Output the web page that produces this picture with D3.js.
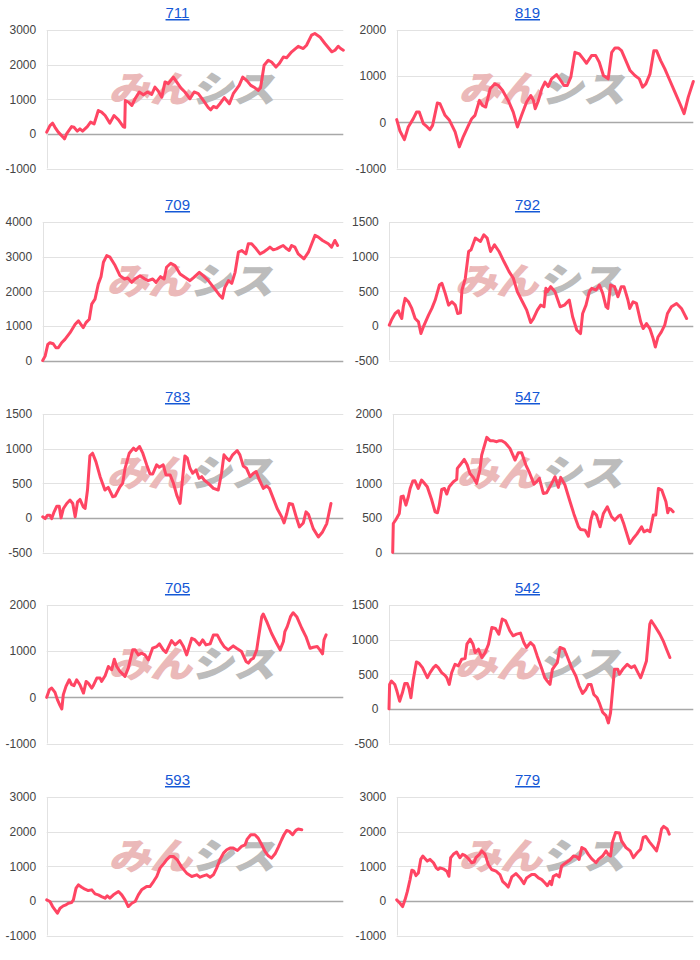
<!DOCTYPE html>
<html><head><meta charset="utf-8">
<script src="https://cdn.jsdelivr.net/npm/d3@7"></script>
<style>body{margin:0;background:#fff;} svg{display:block}</style>
</head><body><svg id="c" width="700" height="960"></svg>
<script>
// ---- DATA ----
const panelIds = ["711","819","709","792","783","547","705","542","593","779"];

const ticks711 = [-1000,0,1000,2000,3000];
const ticks819 = [-1000,0,1000,2000];
const ticks709 = [0,1000,2000,3000,4000];
const ticks792 = [-500,0,500,1000,1500];
const ticks783 = [-500,0,500,1000,1500];
const ticks547 = [0,500,1000,1500,2000];
const ticks705 = [-1000,0,1000,2000];
const ticks542 = [-500,0,500,1000,1500];
const ticks593 = [-1000,0,1000,2000,3000];
const ticks779 = [-1000,0,1000,2000,3000];

// [step, value] pairs, step on a 0..100 scale
const s711 = [[0,50],[1.1,240],[2,310],[2.8,190],[3.9,50],[5.6,-100],[6,-145],[6.7,0],[8.4,210],[9.2,190],[10.3,80],[11.2,145],[12.1,80],[13.7,210],[14.8,340],[16,290],[17.4,675],[18.5,630],[19.7,530],[21.3,310],[22.7,530],[24.2,405],[25.8,210],[26.3,190],[26.5,965],[27.5,920],[28.7,820],[29.8,1015],[31.2,1210],[32.6,1130],[34,1210],[35.4,1140],[36.5,1350],[37.6,1240],[38.8,1060],[39.9,1500],[41,1450],[42.7,1640],[43.8,1500],[45.2,1330],[46.6,1210],[48.3,1015],[49.7,1210],[51.1,1160],[52.8,965],[54.5,755],[55.3,695],[56.2,790],[57.3,755],[58.4,870],[59.9,1045],[61.6,870],[62.9,1160],[64.3,1330],[64.9,1400],[66.1,1640],[67.4,1545],[68.8,1400],[70.2,1330],[71.3,1255],[72.1,1330],[73.3,1980],[74.7,2125],[75.8,2075],[77.3,1930],[78.4,2030],[79.8,2220],[80.9,2200],[82.6,2370],[84.8,2530],[86.5,2465],[87.6,2560],[89.3,2850],[90.4,2900],[92.1,2800],[93.8,2610],[96.1,2370],[97.2,2415],[98.3,2530],[99.1,2465],[100,2415]];

const s819 = [[0,58],[1.1,-187],[2.6,-374],[3.9,-100],[5.6,80],[6.7,223],[7.6,223],[9,-29],[10.3,-100],[11.2,-158],[12.1,-65],[13.7,417],[14.6,403],[16.3,151],[17.8,43],[19.7,-208],[21.1,-532],[22.5,-302],[24.2,-65],[25.3,79],[26.4,151],[27.9,475],[28.9,367],[30,331],[31.5,726],[33.1,834],[34.3,798],[35.7,690],[37.6,475],[39.3,223],[40.7,-100],[42.1,151],[43.8,439],[45.2,582],[46.1,475],[46.7,295],[47.8,475],[48.9,726],[50,870],[51.1,776],[52.2,942],[53.9,1035],[55.3,906],[56.4,798],[57.5,798],[58.7,978],[60.1,1517],[61.6,1481],[62.9,1373],[64,1280],[65.7,1445],[67.1,1445],[68.3,1301],[69.7,1014],[71.3,942],[72.5,1517],[73.6,1611],[74.7,1611],[75.8,1553],[77,1373],[78.7,1122],[80.3,1014],[81.8,942],[82.9,762],[84,834],[85.4,1050],[86.7,1553],[87.6,1553],[89,1337],[90.4,1158],[92.1,906],[93.8,654],[95.5,403],[96.9,187],[98.3,546],[100,884]];

const s709 = [[0,0],[0.8,126],[1.7,465],[2.4,513],[3.5,484],[4.4,368],[5.2,368],[6.3,513],[7.4,610],[9.1,804],[10.8,1046],[11.9,1143],[12.7,1046],[13.5,949],[14.4,1094],[15.5,1191],[16.3,1627],[17.4,1772],[18.5,2208],[19.4,2421],[20.2,2838],[21.3,3031],[22.4,2983],[24.1,2741],[25.7,2450],[27.2,2353],[28.3,2383],[29.6,2257],[30.7,2353],[32.4,2450],[34,2353],[35.1,2305],[36.6,2353],[37.7,2257],[39.2,2421],[40.4,2353],[41.2,2692],[42.6,2809],[44,2741],[45.7,2499],[47.3,2402],[49,2305],[50.3,2402],[52.1,2547],[53.4,2450],[55.1,2305],[57.3,2063],[59,1869],[59.8,1801],[60.6,2111],[61.8,2305],[62.9,2228],[64,2547],[65.1,3128],[66.2,3177],[67.6,3080],[68.4,3370],[69.5,3370],[71,3225],[72.3,3080],[73.4,3128],[74.5,3196],[75.6,3274],[76.7,3196],[77.8,3225],[78.9,3274],[80,3322],[81.2,3225],[82,3177],[82.8,3322],[83.9,3274],[85,3080],[86.9,2935],[88.4,3128],[89.5,3370],[90.6,3613],[91.7,3564],[93.1,3467],[95,3370],[96.1,3274],[97.2,3467],[98.1,3322]];

const s792 = [[0,10],[0.8,92],[1.9,179],[3,218],[3.5,155],[4.1,106],[4.6,276],[5.2,397],[6.3,348],[7.4,252],[8.5,106],[9.6,58],[10.4,-111],[11.2,-15],[12.9,155],[14,252],[15.1,373],[16.5,590],[17.3,615],[18.4,469],[19.5,300],[20.6,348],[21.7,300],[22.5,179],[23.4,189],[23.9,518],[25,687],[26.1,1074],[26.9,1099],[28.3,1268],[30,1220],[31.1,1316],[32.2,1268],[33.3,1074],[34.6,1171],[36.1,1074],[37.7,929],[39.4,784],[40.8,687],[42.1,494],[43.8,348],[45.2,227],[46.5,48],[47.4,106],[48.7,227],[49.8,300],[50.9,276],[51.5,542],[52,494],[53.1,566],[54.5,494],[56.2,276],[57.6,300],[59.2,373],[60.3,131],[61.7,-63],[62.9,-111],[63.6,179],[64.7,300],[65.8,494],[66.6,542],[68,518],[69.1,590],[70.2,469],[71.3,276],[71.9,252],[72.8,590],[74.1,566],[75.2,421],[76.3,566],[77.2,566],[78.5,373],[79.1,252],[80.2,348],[81.3,324],[82.7,58],[83.5,-39],[84.6,34],[85.7,-39],[86.8,-184],[87.5,-305],[88.4,-160],[89.5,-87],[90.6,10],[91.5,179],[92.8,276],[94.5,324],[96.1,252],[97.8,106]];

const s783 = [[0,15],[0.8,-10],[1.6,39],[2.4,39],[3,-10],[3.8,87],[4.7,169],[5.5,169],[6.1,0],[6.9,136],[8,208],[9.1,257],[10,208],[10.8,15],[11.6,232],[12.4,266],[13.5,160],[14.1,136],[14.9,402],[15.7,895],[16.6,934],[17.7,813],[19.1,595],[20.7,402],[21.8,440],[23.3,305],[24.1,315],[25.7,450],[26.6,498],[27.4,716],[28.8,934],[30.2,1007],[31,973],[32.2,1031],[33.3,934],[34.6,765],[35.7,634],[36.6,634],[37.9,765],[38.8,731],[40.1,765],[41,620],[42.4,620],[43.5,499],[44.6,329],[45.7,208],[46.6,595],[47.3,895],[48.1,862],[49,716],[49.9,644],[51,692],[52,571],[52.9,595],[53.7,547],[55.1,499],[56.8,426],[58.4,402],[59.5,644],[60.3,910],[61.2,862],[62.1,828],[63.2,910],[64.7,973],[65.6,910],[66.7,750],[67.8,716],[69,595],[70.1,644],[71,668],[72.1,547],[73.4,426],[74.5,460],[75.4,426],[76.7,281],[78,136],[79.5,15],[80.3,-73],[81.2,63],[82,208],[83.1,198],[84.5,-10],[85.4,-131],[86.7,-73],[87.6,87],[88.4,53],[90,-155],[91.7,-276],[93.1,-203],[94.5,-82],[95.9,208]];

const s547 = [[0,0],[0.2,419],[1.1,477],[1.6,516],[2.2,564],[2.8,805],[3.5,815],[4.4,684],[5.2,805],[5.8,925],[6.7,1031],[7.4,1036],[8.5,925],[9.6,1046],[10.4,1007],[11.5,950],[13,757],[14.1,588],[14.9,574],[15.5,684],[16.3,911],[17.2,925],[18,844],[18.8,950],[20.2,1022],[21.3,1056],[21.5,1215],[22.4,1263],[23.8,1345],[24.8,1263],[25.7,1142],[26.8,1085],[27.9,998],[29,1191],[29.6,1407],[31.3,1663],[32.4,1615],[33.3,1615],[34.6,1600],[35.5,1615],[36.3,1615],[37.4,1586],[39,1504],[40.7,1335],[41.8,1441],[42.9,1441],[44.3,1263],[45.5,1152],[47,988],[47.9,1022],[48.8,1070],[50.1,853],[51.2,863],[52.9,998],[54,1094],[55.1,940],[55.9,1085],[57.3,974],[59,733],[60.3,554],[61.8,371],[62.5,333],[64,323],[65.1,236],[65.9,468],[66.7,588],[67.8,540],[69,371],[70.1,564],[71.4,660],[72.8,516],[73.9,468],[75.1,525],[75.8,540],[76.9,410],[78.9,130],[80,202],[81.2,265],[82.8,371],[83.6,299],[84.7,323],[85.6,299],[86.7,540],[87.5,540],[88.4,925],[89.5,901],[90.9,733],[91.5,574],[92,636],[92.6,622],[93.3,588]];

const s705 = [[0,0],[0.9,165],[1.7,201],[2.8,108],[3.6,-50],[4.5,-180],[5.1,-252],[5.6,58],[6.5,237],[7.6,381],[8.4,273],[9.2,252],[10.1,381],[11.2,273],[12.4,93],[13.3,345],[14,309],[15.2,201],[15.7,252],[16.9,417],[18,417],[18.5,345],[19.7,467],[20.8,669],[21.9,597],[22.8,827],[23.6,669],[24.7,561],[26.4,453],[27.5,633],[29,1028],[29.8,1028],[30.9,920],[32,956],[33.1,920],[34.3,812],[35.7,1064],[37.1,1100],[38,1158],[39.3,1028],[40.2,971],[42.1,1229],[43.3,1136],[44.9,1229],[46.1,1100],[47.2,920],[48.9,1280],[50,1244],[51.5,1136],[52.6,1244],[53.7,1136],[55.1,1158],[56.2,1352],[57.5,1352],[58.7,1208],[59.8,1100],[61.2,1028],[62.9,1114],[64,1064],[65.7,992],[67.2,777],[68,741],[68.8,812],[69.7,848],[70.8,1028],[71.3,1244],[72.5,1747],[73,1805],[74.2,1639],[75.8,1388],[77.5,1172],[78.7,1028],[79.8,1208],[80.3,1424],[81.1,1531],[82.2,1747],[83.1,1833],[84.3,1747],[86,1496],[87.4,1316],[88.8,1064],[89.9,1086],[91.2,1100],[92.1,1028],[93,942],[93.5,1244],[94.2,1352]];

const s542 = [[0,0],[0.2,353],[0.8,402],[1.9,353],[2.6,257],[3.5,111],[4.4,232],[5.2,368],[6,368],[6.6,290],[7.2,160],[7.9,402],[9,678],[9.9,658],[11,595],[11.8,523],[12.6,450],[13.5,523],[14.6,595],[15.4,629],[16.2,595],[17.3,523],[18.4,484],[19,450],[19.8,353],[20.6,523],[21.7,644],[22.8,620],[23.9,716],[25,726],[25.6,934],[26.7,1007],[27.6,934],[28.3,813],[29.4,862],[30.5,741],[31.6,813],[32.7,934],[33.8,1176],[35,1162],[36.1,1079],[37.2,1297],[38.3,1273],[39.7,1128],[40.8,1055],[41.9,1079],[43.2,1094],[44.3,958],[45.2,886],[46.5,958],[47.6,910],[48.7,765],[50.1,595],[51.2,450],[52,402],[52.9,353],[53.7,571],[54.5,620],[55.3,668],[56.2,886],[57.6,862],[58.7,741],[60,595],[61.4,474],[62.5,329],[63.6,223],[64.7,281],[65.5,353],[66.4,353],[67.3,208],[68.4,160],[69.1,87],[70.2,-48],[71.3,-97],[72.1,-203],[72.8,-58],[74.1,571],[75.2,571],[75.7,499],[76.8,571],[78.3,644],[79.6,595],[80.7,620],[81.8,523],[82.7,450],[83.5,547],[84.6,692],[85.1,934],[85.7,1225],[86.2,1273],[87.3,1200],[89,1079],[90.1,983],[91.2,862],[92.3,741]];

const s593 = [[0,29],[1.1,-19],[2,-164],[2.8,-260],[3.6,-357],[4.5,-212],[5.6,-145],[6.5,-116],[7.3,-68],[8.4,-48],[9,29],[9.9,367],[10.7,463],[11.8,395],[12.9,338],[14,299],[15.2,318],[16.3,203],[17.4,174],[18.5,125],[19.7,77],[20.4,145],[21.3,77],[22.5,174],[24.2,270],[25.3,174],[26.4,29],[27.5,-164],[28.7,-68],[29.8,-19],[30.9,174],[32,318],[33.7,415],[34.8,415],[36,559],[37.1,704],[38.2,945],[39.6,1090],[40.4,1186],[41.6,1283],[42.7,1283],[44,1186],[45.5,974],[47.2,801],[48.9,704],[50.6,752],[51.7,685],[52.8,723],[53.9,752],[55.1,685],[56.2,752],[57.3,945],[58.4,1186],[59.6,1379],[60.7,1476],[61.8,1524],[62.9,1524],[64.3,1456],[65.7,1572],[66.9,1620],[67.6,1784],[68.8,1910],[70.2,1910],[71.3,1813],[72.5,1620],[73.6,1427],[74.7,1302],[75.8,1235],[77,1360],[78.1,1553],[79.2,1765],[80,1910],[80.9,2035],[81.8,2006],[82.9,1910],[84,2035],[84.8,2074],[86,2054]];

const s779 = [[0,29],[1.1,-68],[2,-166],[2.8,29],[3.6,273],[4.5,614],[5.1,886],[5.8,857],[6.5,731],[7.3,808],[8.1,1198],[8.8,1295],[9.6,1218],[10.3,1149],[11.2,1198],[12.4,1101],[13.3,955],[14,906],[14.6,955],[15.7,925],[16.9,857],[17.6,711],[18.2,1247],[19.1,1344],[20.2,1412],[21.3,1247],[22.2,1344],[23,1315],[24.2,1218],[25.3,1101],[26.1,1120],[26.7,1247],[27.9,1344],[28.7,1442],[29.8,1344],[30.9,1052],[32,906],[33.5,857],[34.8,760],[35.7,565],[36.9,468],[37.6,399],[38.8,692],[40.2,789],[41.6,662],[42.9,497],[43.8,662],[45.5,760],[46.6,760],[47.8,662],[48.9,614],[50,516],[50.8,438],[51.7,565],[52.2,468],[52.8,711],[53.9,760],[54.8,692],[55.6,1003],[56.7,1081],[58.4,1179],[59.6,1295],[60.7,1276],[61.5,1198],[62.4,1539],[63.5,1490],[64.6,1344],[65.7,1218],[67.2,1101],[68,1198],[69.4,1295],[70.6,1442],[71.3,1344],[72.1,1295],[72.7,1685],[73.8,1977],[75.1,1958],[75.8,1734],[77.3,1539],[78.7,1442],[79.8,1247],[80.9,1373],[82.2,1490],[83.1,1831],[84,1860],[85.2,1705],[86.5,1568],[87.6,1442],[88.5,1734],[89.3,2075],[90,2153],[91.2,2075],[91.9,1928]];

const seriesList = [s711,s819,s709,s792,s783,s547,s705,s542,s593,s779];
const tickList = [ticks711,ticks819,ticks709,ticks792,ticks783,ticks547,ticks705,ticks542,ticks593,ticks779];

// ---- LAYOUT ----
const rowTops = [30, 222, 414, 605, 797];
const plotH = 138.5;
const leftMargins = [46.7, 46.7, 42.7, 39.3, 42.7, 42.7, 46.7, 39, 46.7, 46.7];
const colW = 350;
const plotRight = 343.3;

const svg = d3.select("#c");
const fontFam = "'Liberation Sans', Arial, sans-serif";

panelIds.forEach((id, i) => {
  const col = i % 2, row = Math.floor(i / 2);
  const x0 = col * colW;
  const top = rowTops[row];
  const ticks = tickList[i];
  const data = seriesList[i];
  const g = svg.append("g");

  const x = d3.scaleLinear().domain([0, 100]).range([x0 + leftMargins[i], x0 + plotRight]);
  const y = d3.scaleLinear().domain(d3.extent(ticks)).range([top + plotH, top]);

  // gridlines
  g.selectAll("line.grid").data(ticks).enter().append("line")
    .attr("x1", x.range()[0]).attr("x2", x.range()[1])
    .attr("y1", d => Math.round(y(d)) + 0.5).attr("y2", d => Math.round(y(d)) + 0.5)
    .attr("stroke", d => d === 0 ? "#a8a8a8" : "#e2e2e2")
    .attr("stroke-width", d => d === 0 ? 1.5 : 1);
  // left axis line
  g.append("line")
    .attr("x1", Math.round(x.range()[0]) + 0.5).attr("x2", Math.round(x.range()[0]) + 0.5)
    .attr("y1", top).attr("y2", top + plotH)
    .attr("stroke", "#e2e2e2");

  // tick labels
  g.selectAll("text.tick").data(ticks).enter().append("text")
    .attr("x", x.range()[0] - 10.5).attr("y", d => y(d))
    .attr("dy", "0.36em")
    .attr("text-anchor", "end")
    .attr("font-family", fontFam).attr("font-size", 12)
    .attr("fill", "#444")
    .text(d => d);

  // watermark
  const cx = (x.range()[0] + x.range()[1]) / 2;
  const wm = g.append("g").attr("transform", `translate(${cx},${top + 59}) skewX(-14)`);
  const wt = wm.append("text")
    .attr("text-anchor", "middle").attr("dy", "0.36em")
    .attr("font-family", "'Noto Sans CJK JP', sans-serif")
    .attr("font-weight", "bold").attr("font-size", 36)
    .attr("textLength", 166).attr("lengthAdjust", "spacingAndGlyphs");
  wt.append("tspan").attr("fill", "#ebb9b9").attr("stroke", "#ebb9b9").attr("stroke-width", 1.5).text("みん");
  wt.append("tspan").attr("fill", "#bcbcbc").attr("stroke", "#bcbcbc").attr("stroke-width", 1.5).text("シス");

  // line
  const line = d3.line().x(d => x(d[0])).y(d => y(d[1]));
  g.append("path").datum(data)
    .attr("d", line)
    .attr("fill", "none")
    .attr("stroke", "#ff4563")
    .attr("stroke-width", 3)
    .attr("stroke-linejoin", "round")
    .attr("stroke-linecap", "round");

  // title link
  g.append("text")
    .attr("x", x0 + 177.5).attr("y", top - 12)
    .attr("text-anchor", "middle")
    .attr("font-family", fontFam).attr("font-size", 15)
    .attr("fill", "#1558d6")
    .style("text-decoration", "underline")
    .text(id);
});
</script>
</body></html>
